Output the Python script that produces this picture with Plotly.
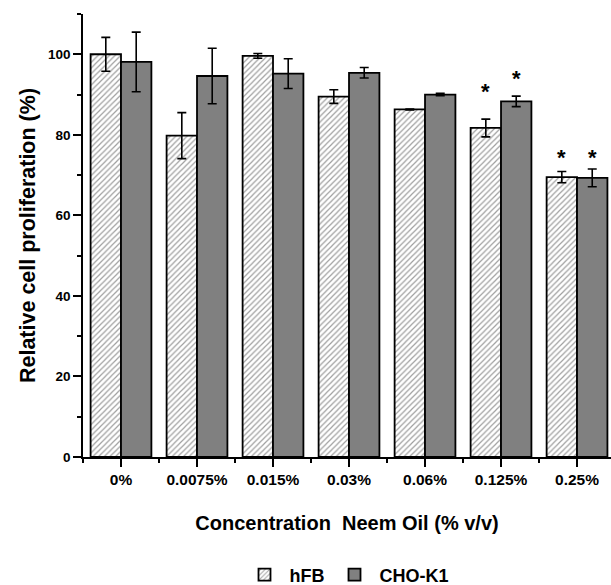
import plotly.graph_objects as go

categories = ["0%", "0.0075%", "0.015%", "0.03%", "0.06%", "0.125%", "0.25%"]
hfb_values = [100.0, 79.8, 99.6, 89.5, 86.3, 81.7, 69.5]
hfb_errors = [4.2, 5.7, 0.6, 1.7, 0.1, 2.2, 1.4]
cho_values = [98.1, 94.6, 95.2, 95.4, 90.0, 88.3, 69.3]
cho_errors = [7.4, 6.9, 3.7, 1.3, 0.3, 1.3, 2.2]
# heights of significance asterisks (None = not significant)
hfb_star = [None, None, None, None, None, 92.1, 75.7]
cho_star = [None, None, None, None, None, 95.3, 75.7]
y_ticks = [0, 20, 40, 60, 80, 100]

xpos = list(range(len(categories)))
FONT = "Liberation Sans"

fig = go.Figure()
fig.add_trace(go.Bar(
    name="<b>hFB</b>", x=xpos, y=hfb_values,
    error_y=dict(type="data", array=hfb_errors, color="black", thickness=1.6, width=4.5),
    marker=dict(color="white", line=dict(color="black", width=1.8),
                pattern=dict(shape="/", fgcolor="#404040", bgcolor="white",
                             size=4, solidity=0.3)),
))
fig.add_trace(go.Bar(
    name="<b>CHO-K1</b>", x=xpos, y=cho_values,
    error_y=dict(type="data", array=cho_errors, color="black", thickness=1.6, width=4.5),
    marker=dict(color="#808080", line=dict(color="black", width=1.8)),
))

for i, (s1, s2) in enumerate(zip(hfb_star, cho_star)):
    for off, s in ((-0.2, s1), (0.2, s2)):
        if s is not None:
            fig.add_annotation(x=i + off, y=s, text="<b>*</b>", showarrow=False,
                               yanchor="middle", yshift=-5,
                               font=dict(family=FONT, size=22, color="black"))

fig.update_layout(
    width=611, height=585,
    margin=dict(l=83, r=0, t=14, b=128, autoexpand=False),
    paper_bgcolor="white", plot_bgcolor="white",
    barmode="group", bargap=0.2, bargroupgap=0,
    font=dict(family=FONT, color="black"),
    showlegend=True,
    legend=dict(orientation="h", x=0.5, xanchor="center", y=-0.266, yanchor="middle",
                font=dict(family=FONT, size=18, color="black"),
                itemwidth=40),
)
fig.update_xaxes(
    range=[-0.5, 6.447], tickmode="array", tickvals=xpos,
    ticktext=["<b>%s</b>" % c for c in categories],
    tickfont=dict(family=FONT, size=15.5, color="black"),
    showline=True, linecolor="black", linewidth=1.6,
    ticks="outside", ticklen=8, tickwidth=1.6, tickcolor="black",
    minor=dict(tickmode="linear", tick0=0.5, dtick=1, ticks="outside", ticklen=4,
               tickwidth=1.6, tickcolor="black"),
    showgrid=False, zeroline=False,
    title=dict(text="<b>Concentration&nbsp; Neem Oil (% v/v)</b>", standoff=29,
               font=dict(family=FONT, size=20, color="black")),
)
fig.update_yaxes(
    range=[0, 110], tickmode="array", tickvals=y_ticks,
    ticktext=["<b>%d</b>" % v for v in y_ticks],
    tickfont=dict(family=FONT, size=13.5, color="black"),
    showline=True, linecolor="black", linewidth=1.6,
    ticks="outside", ticklen=8, tickwidth=1.6, tickcolor="black",
    minor=dict(tickmode="linear", tick0=10, dtick=20, ticks="outside", ticklen=4,
               tickwidth=1.6, tickcolor="black"),
    showgrid=False, zeroline=False,
    title=dict(text="<b>Relative cell proliferation (%)</b>", standoff=6,
               font=dict(family=FONT, size=21.5, color="black")),
)

fig.write_html("out.html")
